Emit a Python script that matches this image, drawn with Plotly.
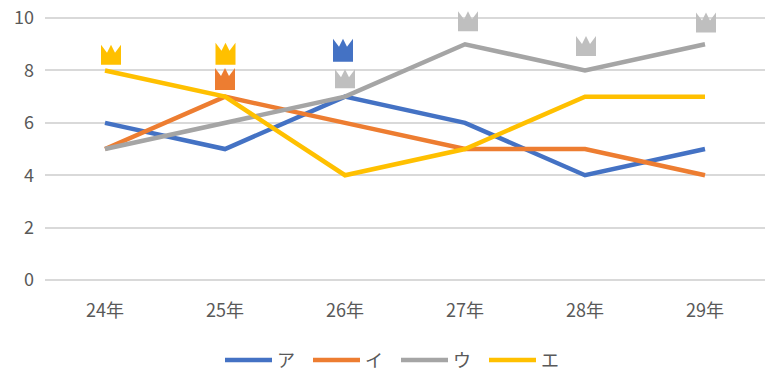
import plotly.graph_objects as go

years = ["24年", "25年", "26年", "27年", "28年", "29年"]
series_a = [6, 5, 7, 6, 4, 5]
series_i = [5, 7, 6, 5, 5, 4]
series_u = [5, 6, 7, 9, 8, 9]
series_e = [8, 7, 4, 5, 7, 7]
names = ["ア", "イ", "ウ", "エ"]
colors = ["#4472C4", "#ED7D31", "#A5A5A5", "#FFC000"]
y_ticks = [0, 2, 4, 6, 8, 10]

# crowns: year index, value at crown base, colour
crown_years = [0, 1, 1, 2, 2, 3, 4, 5]
crown_bases = [8.22, 8.22, 7.25, 8.33, 7.32, 9.5, 8.55, 9.45]
crown_colors = ["#FFC000", "#FFC000", "#ED7D31", "#4472C4", "#BFBFBF", "#BFBFBF", "#BFBFBF", "#BFBFBF"]
crown_dx = [6, 0.5, 0, -2, 0, 3, 1, 1]
crown_h = [20, 22, 22, 23, 19, 20, 20, 20]

TEXT = "#595959"
FONT = "Noto Sans CJK JP"

fig = go.Figure()
for name, vals, col in zip(names, [series_a, series_i, series_u, series_e], colors):
    fig.add_trace(go.Scatter(x=years, y=vals, name=name, mode="lines",
                             line=dict(color=col, width=4.5)))

for yr, base, col, dx, h in zip(crown_years, crown_bases, crown_colors, crown_dx, crown_h):
    l, r = dx - 10, dx + 10
    v = h - 8
    path = (f"M{l},0 L{l},{h} L{l+6},{v} L{dx},{h} L{r-6},{v} L{r},{h} L{r},0 Z")
    fig.add_shape(type="path", xref="x", yref="y", xsizemode="pixel", ysizemode="pixel",
                  xanchor=yr, yanchor=base, path=path, fillcolor=col, line_width=0, layer="above")

fig.update_layout(
    width=777, height=383, autosize=False,
    margin=dict(l=45, r=12, t=3, b=103),
    paper_bgcolor="white", plot_bgcolor="white",
    font=dict(family=FONT, size=18, color=TEXT),
    showlegend=True,
    legend=dict(orientation="h", x=0.4875, xanchor="center", y=-0.225, yanchor="top",
                itemwidth=47, entrywidth=26, entrywidthmode="pixels",
                font=dict(family=FONT, size=18, color=TEXT), traceorder="normal"),
    xaxis=dict(type="category", range=[-0.5, 5.5], showgrid=False, zeroline=False, showline=False,
               ticks="", tickfont=dict(family=FONT, size=18, color=TEXT), ticklabelstandoff=18),
    yaxis=dict(range=[0, 10.5], tickvals=y_ticks, showgrid=True, gridcolor="#D9D9D9", gridwidth=1.5,
               zeroline=True, zerolinecolor="#D9D9D9", zerolinewidth=1.5, showline=False,
               ticks="", tickfont=dict(family=FONT, size=18, color=TEXT), ticklabelstandoff=10),
)
fig.write_html("out.html", config=dict(displayModeBar=False),
               post_script="document.body.style.margin='0';document.body.style.overflow='hidden';")
